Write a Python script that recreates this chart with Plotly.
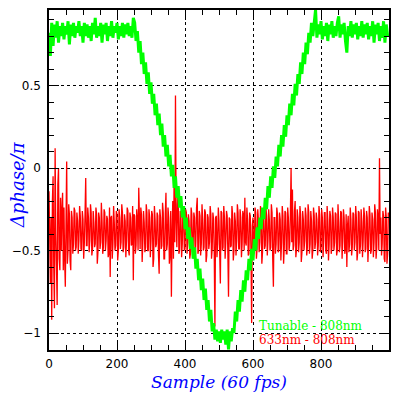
import numpy as np
import plotly.graph_objects as go

# Sample spacing of the listed values
GREEN_STEP = 4
RED_STEP = 2

# Green series: "Tunable - 808nm" (values in hundredths of pi)
green_c = [
    # plateau 0..248
    82, 68, 88, 74, 87, 79, 89, 76, 86, 80, 88, 78, 86, 81, 89, 75, 87, 80, 88, 79,
    86, 82, 89, 80, 86, 76, 88, 80, 87, 79, 86, 77, 88, 81, 91, 79, 86, 80, 88, 76,
    87, 81, 88, 77, 86, 80, 89, 79, 86, 82, 88, 78, 86, 80, 88, 79, 87, 81, 88, 80,
    86, 79, 91,
    # descending 252..488
    88, 77, 83, 70, 77, 63, 70, 57, 64, 51, 58, 45, 52, 39, 45, 32, 39, 26, 33, 20,
    27, 13, 20, 7, 14, 1, 8, -5, 2, -12, -5, -18, -11, -24, -17, -30, -23, -37, -30, -43,
    -36, -49, -42, -55, -48, -61, -55, -68, -61, -74, -67, -80, -73, -86, -80, -93, -86, -99, -94, -104,
    # bottom 492..536
    -98, -105, -99, -106, -98, -104, -99, -107, -98, -110, -99, -105,
    # rising 540..772
    -97, -100, -87, -93, -80, -87, -74, -81, -68, -75, -62, -68, -55, -62, -49, -56, -43, -50, -36, -43,
    -30, -37, -24, -31, -18, -25, -11, -18, -5, -12, 1, -6, 7, 1, 14, 7, 20, 13, 26, 19,
    32, 26, 39, 32, 45, 38, 51, 44, 57, 51, 64, 57, 70, 63, 76, 69, 82, 76, 88,
    # plateau 776..996
    80, 88, 96, 79, 87, 81, 89, 78, 86, 80, 88, 77, 87, 81, 89, 79, 86, 80, 88, 92,
    79, 87, 81, 88, 77, 70, 86, 80, 89, 79, 87, 81, 88, 78, 86, 80, 89, 79, 87, 81,
    88, 78, 86, 80, 89, 76, 87, 81, 88, 77, 86, 79, 89, 76, 87, 80,
]

# Red series: "633nm - 808nm" (values in hundredths of pi), one row = 40 samples
red_c = [
    -14, -40, -70, -30, -92, -20, -5, -60, -85, 12, -40, -60, -83, -10, 0, -55, -62, -18, -50, -25,
    -15, -62, -24, -55, -72, -35, 4, -58, -50, -22, -28, -56, -62, -26, -30, -52, -46, -24, -26, -50,
    -48, -27, -32, -52, -44, -23, -29, -49, -50, -26, -31, -55, -45, -28, -6, -47, -47, -24, -30, -51,
    -44, -22, -27, -53, -49, -26, -33, -48, -46, -24, -28, -58, -51, -27, -30, -49, -45, -21, -32, -52,
    -48, -25, -27, -50, -44, -29, -31, -54, -52, -24, -66, -30, -29, -55, -46, -23, -33, -50, -47, -26,
    -28, -56, -50, -25, -30, -49, -45, -22, -27, -51, -48, -28, -32, -54, -44, -24, -26, -50, -53, -27,
    -30, -47, -46, -23, -68, -28, -29, -52, -47, -25, -31, -50, -12, -30, -49, -24, -28, -57, -45, -26,
    -33, -51, -48, -22, -27, -50, -50, -25, -30, -54, -44, -26, -28, -60, -55, -23, -31, -48, -46, -27,
    -29, -53, -64, -25, -30, -49, -47, -21, -27, -55, -55, -28, -15, -50, -46, -24, -30, -58, -52, -26,
    -78, -40, -20, -55, -5, -45, 44, -30, -48, -22, -12, -52, -50, -26, -28, -54, -46, -23, -30, -50,
    -49, -25, -27, -52, -45, -28, -32, -55, -52, -24, -28, -51, -47, -27, -30, -56, -44, -24, -18, -52,
    -50, -26, -29, -53, -46, -22, -31, -50, -48, -25, -27, -57, -53, -28, -30, -49, -45, -23, -28, -55,
    -49, -27, -31, -52, -96, -30, -29, -54, -46, -24, -32, -51, -70, -26, -27, -50, -48, -23, -30, -55,
    -45, -26, -29, -51, -78, -30, -31, -48, -47, -23, -28, -56, -50, -27, -32, -53, -44, -22, -27, -49,
    -49, -25, -30, -54, -46, -26, -28, -50, -18, -45, -47, -24, -31, -53, -52, -27, -29, -50, -94, -35,
    -30, -52, -46, -24, -27, -55, -49, -25, -32, -51, -45, -23, -28, -58, -51, -26, -30, -49, -47, -24,
    -29, -53, -44, -25, -31, -50, -48, -22, -27, -55, -72, -30, -30, -52, -46, -24, -28, -51, -50, -27,
    -31, -56, -45, -23, -29, -58, -48, -26, -27, -52, -52, -24, -30, -50, -46, -27, 0, -45, -13, -50,
    -47, -26, -20, -54, -49, -25, -30, -51, -45, -23, -28, -57, -51, -26, -31, -50, -44, -24, -29, -53,
    -48, -22, -27, -52, -46, -26, -32, -55, -50, -24, -29, -49, -45, -27, -31, -53, -47, -23, -28, -51,
    -49, -25, -30, -54, -44, -27, -27, -50, -52, -23, -31, -56, -46, -26, -29, -52, -48, -24, -30, -50,
    -45, -27, -28, -53, -50, -22, -32, -51, -47, -26, -27, -55, -44, -25, -30, -52, -49, -28, -60, -35,
    -29, -51, -46, -24, -31, -53, -48, -27, -28, -50, -45, -23, -30, -56, -51, -26, -27, -52, -47, -25,
    -32, -54, -44, -24, -29, -51, -49, -26, -30, -57, -46, -23, -28, -52, -50, -27, -31, -54, -45, -22,
    -27, -55, -48, -25, -30, -50, 6, -40, -30, -53, -46, -26, -29, -55, -57, -24, -30, -58, -52, -27,
]

x_tick_vals = [0, 200, 400, 600, 800]
x_tick_text = ["0", "200", "400", "600", "800"]
y_tick_vals = [-1, -0.5, 0, 0.5]
y_tick_text = ["\u22121", "\u22120.5", "0", "0.5"]

green_x = np.arange(len(green_c)) * GREEN_STEP
red_x = np.arange(len(red_c)) * RED_STEP
green_y = np.array(green_c) / 100.0
red_y = np.array(red_c) / 100.0

fig = go.Figure()
fig.add_trace(go.Scatter(x=red_x, y=red_y, mode="lines",
                         line=dict(color="#ff0000", width=1.3, simplify=False), name="633nm - 808nm"))
fig.add_trace(go.Scatter(x=green_x, y=green_y, mode="lines",
                         line=dict(color="#00ff00", width=3, simplify=False), name="Tunable - 808nm"))

axis_common = dict(
    showline=True, linecolor="black", linewidth=1.5, mirror="allticks",
    ticks="inside", ticklen=10, tickwidth=1, tickcolor="black",
    showgrid=True, gridcolor="black", gridwidth=1, griddash="dot",
    zeroline=False, automargin=False,
    tickfont=dict(family="DejaVu Sans", size=12, color="black"),
)

fig.update_xaxes(range=[0, 1000], tickvals=x_tick_vals, ticktext=x_tick_text,
                 minor=dict(dtick=50, ticks="inside", ticklen=5, tickcolor="black", showgrid=False),
                 ticklabelstandoff=2, **axis_common)
fig.update_yaxes(range=[-1.103, 0.958], tickvals=y_tick_vals, ticktext=y_tick_text,
                 minor=dict(dtick=0.1, tick0=0, ticks="inside", ticklen=5, tickcolor="black", showgrid=False),
                 ticklabelstandoff=4, **axis_common)

# The page body adds an 8px offset, so the margins compensate for it.
fig.update_layout(
    width=383, height=391,
    margin=dict(l=41, r=2, t=2, b=49, autoexpand=False),
    paper_bgcolor="white", plot_bgcolor="white",
    showlegend=False,
    annotations=[
        dict(text="Sample (60 fps)", xref="paper", yref="paper", x=0.5, y=-0.094,
             xanchor="center", yanchor="middle", showarrow=False,
             font=dict(family="DejaVu Serif", size=17, color="#0000ff", style="italic")),
        dict(text="\u0394phase/\u03c0", xref="paper", yref="paper", x=-0.094, y=0.485,
             xanchor="center", yanchor="middle", showarrow=False, textangle=-90,
             font=dict(family="DejaVu Serif", size=18, color="#0000ff", style="italic")),
        dict(text="Tunable - 808nm", xref="paper", yref="paper", x=0.612, y=0.072,
             xanchor="left", yanchor="middle", showarrow=False,
             font=dict(family="DejaVu Serif", size=12, color="#00ff00")),
        dict(text="633nm - 808nm", xref="paper", yref="paper", x=0.612, y=0.030,
             xanchor="left", yanchor="middle", showarrow=False,
             font=dict(family="DejaVu Serif", size=12, color="#ff0000")),
    ],
)

fig.write_html("out.html")
